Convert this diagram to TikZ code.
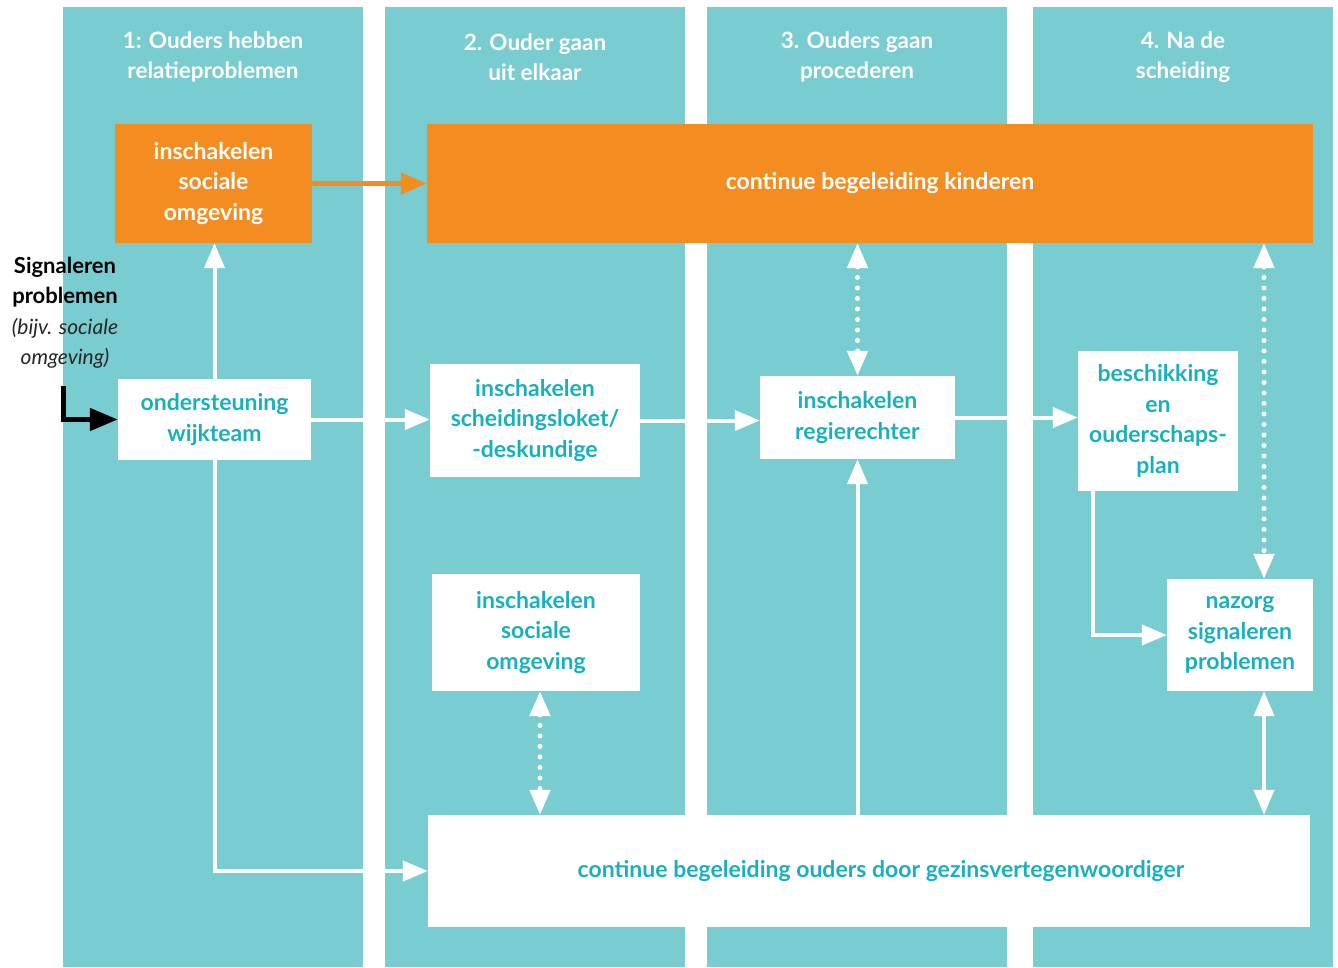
\documentclass[tikz,border=0pt]{standalone}
\usepackage{fontspec}
\setmainfont{Lato}
\usetikzlibrary{arrows.meta}
\definecolor{tealbg}{HTML}{79CDD0}
\definecolor{tealtxt}{HTML}{19B0BE}
\definecolor{orng}{HTML}{F48D21}
\begin{document}
\begin{tikzpicture}[x=1pt,y=-1pt,
  col/.style={fill=tealbg},
  box/.style={fill=white, inner sep=0pt, align=center, text=tealtxt,
    font=\fontsize{23}{30.5}\selectfont\bfseries},
  obox/.style={box, fill=orng, text=white},
  head/.style={inner sep=0pt, align=center, text=white,
    font=\fontsize{22.5}{30}\selectfont\bfseries},
  conn/.style={draw=white, line width=4pt, -{Triangle[width=20pt,length=25pt]}},
  dconn/.style={draw=white, line width=4pt, {Triangle[width=20pt,length=25pt]}-{Triangle[width=20pt,length=25pt]}},
  dotconn/.style={draw=white, line width=5pt, line cap=round, dash pattern=on 0pt off 10.5pt,
    {Triangle[width=20pt,length=25pt]}-{Triangle[width=20pt,length=25pt]}},
]
\useasboundingbox (0,0) rectangle (1338,967);
\fill[white] (0,0) rectangle (1338,967);
% columns
\fill[col] (63,7) rectangle (363,967);
\fill[col] (385,7) rectangle (685,967);
\fill[col] (707,7) rectangle (1007,967);
\fill[col] (1033,7) rectangle (1333,967);
% headers
\node[head] (h1) at (213,57) {1: Ouders hebben\\relatieproblemen};
\node[head] (h2) at (535,57) {2. Ouder gaan\\uit elkaar};
\node[head] (h3) at (857,57) {3. Ouders gaan\\procederen};
\node[head] (h4) at (1183,57) {4. Na de\\scheiding};
% boxes
\node[obox, minimum width=197pt, minimum height=119pt] (osoc) at (213.5,183.5) {inschakelen\\sociale\\omgeving};
\node[obox, minimum width=886pt, minimum height=119pt] (okind) at (870,183.5) {\hspace*{20pt}continue begeleiding kinderen};
\node[box, minimum width=193pt, minimum height=81pt] (wijk) at (214.5,419.5) {ondersteuning\\wijkteam};
\node[box, minimum width=210pt, minimum height=113pt] (schei) at (535,420.5) {inschakelen\\scheidingsloket/\\-deskundige};
\node[box, minimum width=195pt, minimum height=83pt] (regie) at (857.5,417.5) {inschakelen\\regierechter};
\node[box, minimum width=160pt, minimum height=140pt] (besch) at (1158,421) {beschikking\\en\\ouderschaps-\\plan};
\node[box, minimum width=146pt, minimum height=112pt] (nazorg) at (1240,635) {nazorg\\signaleren\\problemen};
\node[box, minimum width=208pt, minimum height=117pt] (soc) at (536,632.5) {inschakelen\\sociale\\omgeving};
\node[box, minimum width=882pt, minimum height=112pt] (ouders) at (869,871) {\hspace*{24pt}continue begeleiding ouders door gezinsvertegenwoordiger};
% signaleren text
\node[inner sep=0pt, align=center, text=black, font=\fontsize{22}{30.5}\selectfont] (sig) at (65,312.5)
  {\bfseries Signaleren\\
   \bfseries problemen\\
   {\fontsize{21}{30.5}\selectfont\itshape\color{black!85}(bijv. sociale}\\
   {\fontsize{21}{30.5}\selectfont\itshape\color{black!85}omgeving)}};
% helper coordinates
\coordinate (rx) at (1264,0);
\coordinate (bx) at (1093,0);
\coordinate (sx) at (540,0);
\coordinate (sigstart) at (63.5,386);
% connectors
\draw[black, line width=5pt, -{Triangle[width=22pt,length=28pt]}] (sigstart) |- (wijk.west);
\draw[conn] (wijk.north) -- (wijk.north |- osoc.south);
\draw[draw=orng, line width=5pt, -{Triangle[width=21pt,length=26pt]}] (osoc.east) -- (okind.west);
\draw[conn] (wijk.east) -- (wijk.east -| schei.west);
\draw[conn] (schei.east) -- (schei.east -| regie.west);
\draw[conn] (regie.east) -- (regie.east -| besch.west);
\draw[dotconn] (okind.south -| regie.north) -- (regie.north);
\draw[dotconn] (okind.south -| rx) -- (nazorg.north -| rx);
\draw[dconn] (nazorg.south -| rx) -- (ouders.north -| rx);
\draw[conn] (besch.south -| bx) |- (nazorg.west);
\draw[conn] (ouders.north -| regie.south) -- (regie.south);
\draw[dotconn] (soc.south -| sx) -- (ouders.north -| sx);
\draw[conn] (wijk.south) |- (ouders.west);
\end{tikzpicture}
\end{document}
